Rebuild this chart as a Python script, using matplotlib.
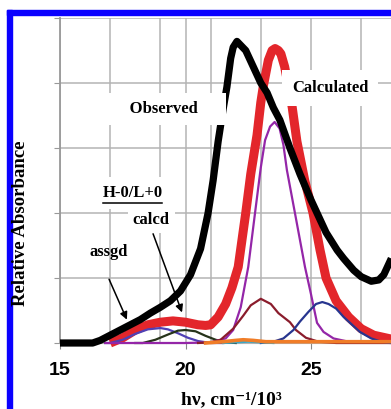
import matplotlib
matplotlib.use('Agg')
import matplotlib.pyplot as plt
from matplotlib.patches import Rectangle

# Observed spectrum (thick black)
obs_x = [15.0, 16.3, 16.6, 17.0, 17.4, 17.8, 18.2, 18.6, 19.0, 19.4, 19.8,
         20.2, 20.6, 20.9, 21.1, 21.3, 21.5, 21.65, 21.8, 21.9, 22.05,
         22.4, 22.7, 23.0, 23.25, 23.5, 23.76, 24.16, 24.56, 25.0, 25.24,
         25.6, 26.04, 26.3, 26.7, 27.0, 27.4, 27.7, 27.9, 28.2]
obs_y = [0.0, 0.0, 0.04, 0.12, 0.2, 0.28, 0.36, 0.46, 0.55, 0.65, 0.8,
         1.05, 1.45, 2.0, 2.5, 3.1, 3.6, 3.94, 4.38, 4.55, 4.64,
         4.5, 4.25, 4.0, 3.85, 3.62, 3.43, 3.0, 2.6, 2.2, 2.0,
         1.7, 1.43, 1.3, 1.12, 1.02, 0.95, 0.97, 1.05, 1.3]

# Calculated spectrum (thick red)
calc_x = [17.0, 17.5, 18.0, 18.5, 19.0, 19.5, 20.0, 20.5, 20.8, 21.0,
          21.3, 21.6, 21.85, 22.1, 22.4, 22.6, 22.85, 23.0, 23.1, 23.3,
          23.45, 23.57, 23.7, 23.8, 23.95, 24.1, 24.25, 24.44, 24.75,
          25.08, 25.36, 25.6, 26.0, 26.5, 27.0, 27.5, 28.2]
calc_y = [0.0, 0.08, 0.2, 0.28, 0.32, 0.34, 0.32, 0.28, 0.27, 0.28,
          0.4, 0.6, 0.85, 1.17, 2.0, 2.6, 3.2, 3.7, 3.95, 4.35,
          4.5, 4.53, 4.5, 4.45, 4.25, 3.95, 3.63, 3.1, 2.5,
          2.0, 1.43, 1.0, 0.65, 0.4, 0.22, 0.12, 0.06]

# Gaussian components
purple_x = [16.8, 18.0, 19.0, 20.0, 21.0, 21.6, 21.9, 22.2, 22.5, 22.77,
            23.0, 23.17, 23.37, 23.55, 23.75, 23.9, 24.04, 24.36, 24.76,
            25.0, 25.24, 25.5, 25.9, 26.5, 28.2]
purple_y = [0.0, 0.0, 0.0, 0.0, 0.01, 0.07, 0.2, 0.55, 1.17, 2.0,
            2.7, 3.12, 3.33, 3.4, 3.3, 3.05, 2.66, 2.0, 1.17,
            0.75, 0.31, 0.17, 0.07, 0.02, 0.0]

maroon_x = [20.5, 21.0, 21.4, 21.9, 22.3, 22.6, 23.0, 23.4, 23.7, 24.16,
            24.4, 24.8, 25.3, 26.0, 28.2]
maroon_y = [0.0, 0.01, 0.05, 0.22, 0.42, 0.58, 0.68, 0.6, 0.46, 0.32,
            0.2, 0.08, 0.02, 0.0, 0.0]

navy_x = [23.0, 23.5, 23.9, 24.3, 24.56, 24.9, 25.2, 25.45, 25.7, 26.0,
          26.3, 26.95, 27.4, 27.8, 28.2]
navy_y = [0.0, 0.02, 0.07, 0.2, 0.33, 0.48, 0.6, 0.63, 0.6, 0.53,
          0.4, 0.17, 0.07, 0.02, 0.0]

violet_x = [16.8, 17.0, 17.5, 18.0, 18.5, 19.0, 19.3, 19.7, 20.1, 20.5,
            21.0, 21.5]
violet_y = [0.0, 0.0, 0.05, 0.14, 0.21, 0.23, 0.21, 0.15, 0.08, 0.03,
            0.0, 0.0]

olive_x = [18.0, 18.3, 18.8, 19.3, 19.7, 20.0, 20.4, 20.8, 21.2, 21.6, 22.0]
olive_y = [0.0, 0.0, 0.05, 0.13, 0.19, 0.2, 0.18, 0.11, 0.05, 0.01, 0.0]

orange_x = [20.8, 21.5, 22.0, 22.3, 22.7, 23.2, 24.0, 25.0, 26.0, 27.0, 28.2]
orange_y = [0.0, 0.02, 0.04, 0.05, 0.04, 0.02, 0.02, 0.02, 0.02, 0.02, 0.02]

teal_x = [21.5, 22.0, 22.5, 23.0, 23.5]
teal_y = [0.0, 0.01, 0.02, 0.01, 0.0]

x_major = [15, 20, 25]
x_grid = [17, 19, 21, 23, 27]
y_grid = [0, 1, 2, 3, 4, 5]

plt.rcParams['font.family'] = ['Liberation Serif', 'DejaVu Serif']

fig = plt.figure(figsize=(3.91, 4.09), dpi=100)
ax = fig.add_axes([60 / 391, 66 / 409, 331 / 391, 325 / 409])

grid_c = '#b4b4b4'
ax.plot(calc_x, calc_y, color='#e3262b', lw=6.5, zorder=3,
        solid_capstyle='butt', clip_on=False)
ax.plot(violet_x, violet_y, color='#5040b4', lw=1.6, zorder=4, clip_on=False)
ax.plot(olive_x, olive_y, color='#26331a', lw=1.6, zorder=4, clip_on=False)
ax.plot(purple_x, purple_y, color='#9426a8', lw=1.6, zorder=4, clip_on=False)
ax.plot(maroon_x, maroon_y, color='#8a1c2c', lw=1.6, zorder=4, clip_on=False)
ax.plot(navy_x, navy_y, color='#27358f', lw=1.6, zorder=4, clip_on=False)
ax.plot(teal_x, teal_y, color='#3aa8c8', lw=1.6, zorder=4, clip_on=False)
ax.plot(orange_x, orange_y, color='#f07d28', lw=2.6, zorder=5, clip_on=False)
ax.plot(obs_x, obs_y, color='black', lw=5.2, zorder=6,
        solid_capstyle='butt', clip_on=False)

ax.set_xlim(15, 15 + 331 / 25.1)
ax.set_ylim(0, 5)
ax.set_xticks(x_major)
ax.set_xticks(x_grid, minor=True)
ax.set_yticks(y_grid)
ax.set_yticklabels([])
ax.grid(True, which='both', color=grid_c, lw=1.1, zorder=0)
ax.set_axisbelow(True)
ax.tick_params(axis='x', which='major', length=4, color='#888888',
               labelsize=14, pad=10)
ax.tick_params(axis='x', which='minor', length=0)
ax.tick_params(axis='y', length=4, color='#999999')
for lbl in ax.get_xticklabels():
    lbl.set_family(['Liberation Sans', 'DejaVu Sans'])
    lbl.set_fontweight('bold')
for side in ['top', 'right']:
    ax.spines[side].set_visible(False)
ax.spines['left'].set_color('#999999')
ax.spines['left'].set_linewidth(1.3)
ax.spines['bottom'].set_color(grid_c)

fig.text(231.5 / 391, 9 / 409, 'hν, cm⁻¹/10³', fontsize=14,
         fontweight='bold', ha='center', va='center')
fig.text(21 / 391, 186 / 409, 'Relative Absorbance', fontsize=13.5,
         fontweight='bold', rotation=90, ha='center', va='center')

ax.text(19.12, 3.6, '     Observed     ', fontsize=12, fontweight='bold',
        ha='center', va='center', zorder=7,
        bbox=dict(boxstyle='square,pad=0.5', fc='white', ec='none'))
ax.text(25.76, 3.92, 'Calculated', fontsize=12, fontweight='bold',
        ha='center', va='center', zorder=7,
        bbox=dict(boxstyle='square,pad=0.6', fc='white', ec='none'))
ax.text(17.9, 2.31, 'H-0/L+0', fontsize=12, fontweight='bold',
        ha='center', va='center', zorder=7,
        bbox=dict(boxstyle='square,pad=0.5', fc='white', ec='none'))
ax.plot([16.71, 19.06], [2.15, 2.15], color='black', lw=1.1, zorder=8)
ax.text(18.63, 1.89, 'calcd', fontsize=12, fontweight='bold',
        ha='center', va='center', zorder=7,
        bbox=dict(boxstyle='square,pad=0.3', fc='white', ec='none'))
ax.text(16.95, 1.4, 'assgd', fontsize=12, fontweight='bold',
        ha='center', va='center', zorder=7)

arrow = dict(arrowstyle='-|>', color='black', lw=1.1, mutation_scale=11)
ax.annotate('', xy=(17.71, 0.32), xytext=(16.91, 1.02),
            arrowprops=arrow, zorder=8)
ax.annotate('', xy=(19.9, 0.43), xytext=(18.67, 1.72),
            arrowprops=arrow, zorder=8)

# blue frame
fig.patches.append(Rectangle((7 / 391, 0), 5.5 / 391, 399 / 409,
                             transform=fig.transFigure, color='#0a00ff'))
fig.patches.append(Rectangle((7 / 391, 394 / 409), 384 / 391, 5 / 409,
                             transform=fig.transFigure, color='#0a00ff'))

fig.savefig('out.png', dpi=100)
